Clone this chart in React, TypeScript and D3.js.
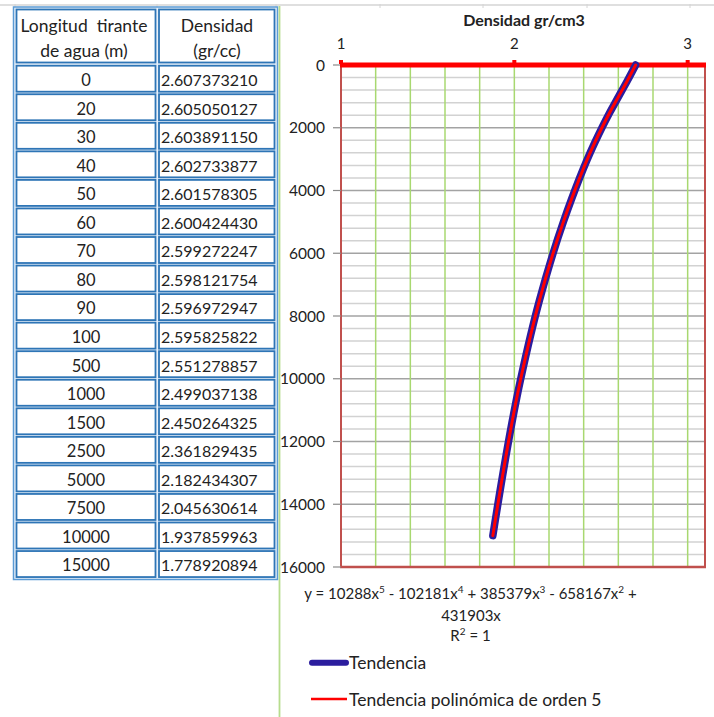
import React from "react";
import * as d3 from "d3";

const depths = [0, 20, 30, 40, 50, 60, 70, 80, 90, 100, 500, 1000, 1500, 2500, 5000, 7500, 10000, 15000];
const densities = [
  "2.607373210", "2.605050127", "2.603891150", "2.602733877", "2.601578305", "2.600424430",
  "2.599272247", "2.598121754", "2.596972947", "2.595825822", "2.551278857", "2.499037138",
  "2.450264325", "2.361829435", "2.182434307", "2.045630614", "1.937859963", "1.778920894",
];

// curve as drawn in the chart
const curveDepths = [0, 500, 1000, 1500, 2500, 5000, 7500, 10000, 15000];
const curveDensity = [2.70, 2.652, 2.602, 2.552, 2.462, 2.283, 2.145, 2.037, 1.876];

const xTicks = [1, 2, 3];
const yTicks = [0, 2000, 4000, 6000, 8000, 10000, 12000, 14000, 16000];

const FONT = "Lato, 'Open Sans', sans-serif";

export default function App() {
  const x = d3.scaleLinear().domain([1, 3.1]).range([341, 705]);
  const y = d3.scaleLinear().domain([0, 16000]).range([65, 567]);

  const minorY = d3.range(400, 16000, 400).filter((v) => v % 2000 !== 0);
  const majorY = d3.range(2000, 16000, 2000);
  const vLines = d3.range(1.2, 3.1, 0.2);

  const pts: [number, number][] = curveDepths.map((d, i) => [curveDensity[i], d]);
  const line = d3
    .line<[number, number]>()
    .x((d) => x(d[0]))
    .y((d) => y(d[1]))
    .curve(d3.curveMonotoneY);
  const path = line(pts) || "";

  const rowTop = (i: number) => 65.7 + i * 28.55;

  return (
    <svg width={714} height={717} style={{ position: "absolute", left: 0, top: 0, background: "#fff" }} fontFamily={FONT}>
      {/* sheet gridline */}
      <line x1={0} x2={714} y1={5} y2={5} stroke="#d4d4d4" strokeWidth={1.5} />
      {[15, 157, 276, 380, 483, 587, 690].map((tx) => (
        <line key={tx} x1={tx} x2={tx} y1={4} y2={8} stroke="#d4d4d4" strokeWidth={1} />
      ))}

      {/* table */}
      <rect x={13.5} y={7} width={264} height={572.5} fill="#e9f1fa" stroke="#5b9bd5" strokeWidth={1.5} />
      <rect x={16.5} y={9.5} width={139} height={53} fill="#fff" stroke="#2e75b6" strokeWidth={1.8} />
      <rect x={159} y={9.5} width={115.5} height={53} fill="#fff" stroke="#2e75b6" strokeWidth={1.8} />
      <text x={84} y={31.5} textAnchor="middle" fontSize={17.5} fill="#222">
        Longitud{"\u00a0\u00a0"}tirante
      </text>
      <text x={84} y={57} textAnchor="middle" fontSize={17.5} fill="#222">
        de agua (m)
      </text>
      <text x={217} y={31.5} textAnchor="middle" fontSize={17.5} fill="#222">
        Densidad
      </text>
      <text x={217} y={57} textAnchor="middle" fontSize={17.5} fill="#222">
        (gr/cc)
      </text>
      {depths.map((d, i) => (
        <g key={i}>
          <rect x={16.5} y={rowTop(i)} width={139} height={26} fill="#fff" stroke="#2e75b6" strokeWidth={1.8} />
          <rect x={159} y={rowTop(i)} width={115.5} height={26} fill="#fff" stroke="#2e75b6" strokeWidth={1.8} />
          <text x={86} y={rowTop(i) + 20.3} textAnchor="middle" fontSize={16.5} fill="#222">
            {d}
          </text>
          <text x={161} y={rowTop(i) + 20.3} fontSize={16} fill="#222">
            {densities[i]}
          </text>
        </g>
      ))}

      {/* chart frame line */}
      <line x1={279.5} x2={279.5} y1={6} y2={717} stroke="#b7dd8e" strokeWidth={1.8} />

      {/* title */}
      <text x={524} y={26} textAnchor="middle" fontSize={16} fontWeight="bold" fill="#222">
        Densidad gr/cm3
      </text>

      {/* grid */}
      {minorY.map((v) => (
        <line key={"mi" + v} x1={x(1)} x2={x(3.1)} y1={y(v)} y2={y(v)} stroke="#d2d2d2" strokeWidth={1.5} />
      ))}
      {majorY.map((v) => (
        <line key={"ma" + v} x1={x(1)} x2={x(3.1)} y1={y(v)} y2={y(v)} stroke="#a3a3a3" strokeWidth={1.5} />
      ))}
      {vLines.map((v) => (
        <line key={"v" + v} x1={x(v)} x2={x(v)} y1={y(0)} y2={y(16000)} stroke="#a8d870" strokeWidth={1.5} />
      ))}

      {/* plot border */}
      <line x1={x(1)} x2={x(1)} y1={y(0)} y2={y(16000) + 1} stroke="#c0504d" strokeWidth={2} />
      <line x1={x(3.1)} x2={x(3.1)} y1={y(0)} y2={y(16000) + 1} stroke="#c0504d" strokeWidth={2} />
      <line x1={x(1) - 1} x2={x(3.1) + 1} y1={y(16000)} y2={y(16000)} stroke="#c0504d" strokeWidth={2.5} />

      {/* y ticks & labels */}
      {yTicks.map((v) => (
        <g key={"yt" + v}>
          <line x1={333} x2={x(1)} y1={y(v)} y2={y(v)} stroke="#8a8a8a" strokeWidth={1.2} />
          <text x={325} y={y(v) + 5.5} textAnchor="end" fontSize={15.5} fill="#222">
            {v}
          </text>
        </g>
      ))}

      {/* top axis */}
      <line x1={x(1) - 1} x2={x(3.1) + 1} y1={y(0)} y2={y(0)} stroke="#ff0000" strokeWidth={5} />
      {xTicks.map((v) => (
        <g key={"xt" + v}>
          <rect x={x(v) - 2} y={y(0) - 5} width={4} height={4} fill="#ff0000" />
          <text x={x(v)} y={49} textAnchor="middle" fontSize={15} fill="#222">
            {v}
          </text>
        </g>
      ))}

      {/* series */}
      <path d={path} fill="none" stroke="#2b1d9e" strokeWidth={7.5} strokeLinecap="round" strokeLinejoin="round" />
      <path d={path} fill="none" stroke="#ff0000" strokeWidth={3} strokeLinecap="round" strokeLinejoin="round" />

      {/* equation */}
      <text x={470.5} y={598.5} textAnchor="middle" fontSize={15} fill="#222">
        y = 10288x<tspan fontSize={10} dy={-5.5}>5</tspan>
        <tspan dy={5.5}> - 102181x</tspan>
        <tspan fontSize={10} dy={-5.5}>4</tspan>
        <tspan dy={5.5}> + 385379x</tspan>
        <tspan fontSize={10} dy={-5.5}>3</tspan>
        <tspan dy={5.5}> - 658167x</tspan>
        <tspan fontSize={10} dy={-5.5}>2</tspan>
        <tspan dy={5.5}> +</tspan>
      </text>
      <text x={471} y={620.5} textAnchor="middle" fontSize={15} fill="#222">
        431903x
      </text>
      <text x={470.5} y={640.5} textAnchor="middle" fontSize={15} fill="#222">
        R<tspan fontSize={10} dy={-5.5}>2</tspan>
        <tspan dy={5.5}> = 1</tspan>
      </text>

      {/* legend */}
      <line x1={312} x2={346} y1={662.7} y2={662.7} stroke="#2b1d9e" strokeWidth={6} strokeLinecap="round" />
      <text x={349} y={669} fontSize={17.5} fill="#222">
        Tendencia
      </text>
      <line x1={311} x2={347} y1={699} y2={699} stroke="#ff0000" strokeWidth={2.5} />
      <text x={349} y={705.5} fontSize={17.5} fill="#222">
        Tendencia polinómica de orden 5
      </text>
    </svg>
  );
}
